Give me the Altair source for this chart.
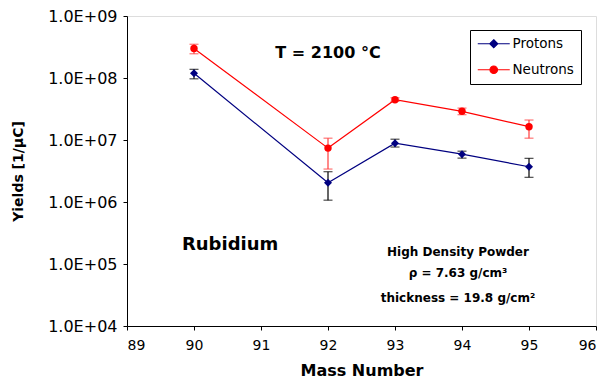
import altair as alt
import pandas as pd

mass = [90, 92, 93, 94, 95]
protons = [1.19e8, 2.05e6, 8.9e6, 5.9e6, 3.7e6]
protons_hi = [1.38e8, 3.08e6, 1.03e7, 6.6e6, 5.06e6]
protons_lo = [9.7e7, 1.07e6, 7.7e6, 5.1e6, 2.5e6]
neutrons = [3.0e8, 7.4e6, 4.46e7, 2.9e7, 1.64e7]
neutrons_hi = [3.5e8, 1.07e7, 4.8e7, 3.27e7, 2.1e7]
neutrons_lo = [2.46e8, 3.4e6, 4.2e7, 2.56e7, 1.07e7]

series = ["Protons", "Neutrons"]
line_colors = ["#000080", "#FF0000"]
err_colors = ["#000000", "#FF3B3B"]
shapes = ["diamond", "circle"]
legend_paths = [
    "M-1.2,0H5.2M2,-0.8L2.8,0L2,0.8L1.2,0Z",
    "M-1.2,0H5.2M2.75,0A0.75,0.75,0,1,1,1.25,0A0.75,0.75,0,1,1,2.75,0Z",
]

x_ticks = [89, 90, 91, 92, 93, 94, 95, 96]
y_ticks = [1e4, 1e5, 1e6, 1e7, 1e8, 1e9]

ann_title = {"x": [92.0], "y": [2.12e8], "t": ["T = 2100 °C"]}
ann_elem = {"x": [89.82], "y": [1.71e5], "t": ["Rubidium"]}
ann_box = {"x": [93.94, 93.94, 93.94], "y": [1.37e5, 6.1e4, 2.43e4],
           "t": ["High Density Powder", "ρ  = 7.63 g/cm³", "thickness = 19.8 g/cm²"]}

FONT = "DejaVu Sans"

xscale = alt.Scale(domain=[89, 96], nice=False)
yscale = alt.Scale(type="log", domain=[1e4, 1e9], nice=False)

xax = alt.Axis(values=x_ticks, format="d", title="Mass Number", grid=False,
               tickSize=4, labelPadding=8, labelFontSize=14, labelFont=FONT,
               titleFont=FONT, titleFontSize=16, titleFontWeight="bold",
               titlePadding=10, domainColor="black", tickColor="black",
               labelColor="black", titleColor="black")
yax = alt.Axis(values=y_ticks, labelExpr="'1.0E+0' + round(log(datum.value)/LN10)",
               title="Yields [1/μC]", grid=False, tickSize=4, labelPadding=6,
               labelFontSize=16, labelFont=FONT, titleFont=FONT, titleFontSize=14,
               titleFontWeight="bold", titlePadding=22, domainColor="black",
               tickColor="black", labelColor="black", titleColor="black")

data = {
    "Protons": (protons, protons_lo, protons_hi),
    "Neutrons": (neutrons, neutrons_lo, neutrons_hi),
}

layers = []
first = True
for s, lc, ec, sh in zip(series, line_colors, err_colors, shapes):
    v, lo, hi = data[s]
    df = pd.DataFrame({"mass": mass, "value": v, "lo": lo, "hi": hi, "series": s})
    base = alt.Chart(df)
    if first:
        xenc = alt.X("mass:Q", scale=xscale, axis=xax)
        yenc = alt.Y("value:Q", scale=yscale, axis=yax)
        first = False
    else:
        xenc = alt.X("mass:Q", scale=xscale)
        yenc = alt.Y("value:Q", scale=yscale)
    line = base.mark_line(color=lc, strokeWidth=1.2).encode(x=xenc, y=yenc)
    rule = base.mark_rule(color=ec, strokeWidth=1.2).encode(
        x=alt.X("mass:Q", scale=xscale), y=alt.Y("lo:Q", scale=yscale), y2="hi:Q")
    cap_hi = base.mark_tick(color=ec, orient="horizontal", size=9, thickness=1.2).encode(
        x=alt.X("mass:Q", scale=xscale), y=alt.Y("hi:Q", scale=yscale))
    cap_lo = base.mark_tick(color=ec, orient="horizontal", size=9, thickness=1.2).encode(
        x=alt.X("mass:Q", scale=xscale), y=alt.Y("lo:Q", scale=yscale))
    pts = base.mark_point(filled=True, color=lc, shape=sh, size=64 if sh == "diamond" else 55,
                          opacity=1).encode(
        x=alt.X("mass:Q", scale=xscale), y=alt.Y("value:Q", scale=yscale))
    layers += [line, rule, cap_hi, cap_lo, pts]

# legend layer (invisible marks, visible legend)
leg_df = pd.DataFrame({"mass": mass[:2], "value": protons[:2], "series": series})
legend = alt.Legend(title=None, orient="none", legendX=343, legendY=14,
                    strokeColor="black", fillColor="white", padding=7,
                    symbolSize=100, symbolStrokeWidth=1.2, symbolOpacity=1,
                    labelFont=FONT, labelFontSize=13.5, labelColor="black",
                    labelOffset=22, rowPadding=11, cornerRadius=0)
leg = alt.Chart(leg_df).mark_point(filled=True, opacity=0).encode(
    x=alt.X("mass:Q", scale=xscale),
    y=alt.Y("value:Q", scale=yscale),
    fill=alt.Fill("series:N", scale=alt.Scale(domain=series, range=line_colors), legend=legend),
    stroke=alt.Stroke("series:N", scale=alt.Scale(domain=series, range=line_colors), legend=legend),
    shape=alt.Shape("series:N", scale=alt.Scale(domain=series, range=legend_paths), legend=legend),
)
layers.append(leg)

def text_layer(d, size, align):
    return alt.Chart(pd.DataFrame(d)).mark_text(
        font=FONT, fontSize=size, fontWeight="bold", align=align,
        baseline="alphabetic", color="black").encode(
        x=alt.X("x:Q", scale=xscale), y=alt.Y("y:Q", scale=yscale), text="t:N")

layers.append(text_layer(ann_title, 16, "center"))
layers.append(text_layer(ann_elem, 18, "left"))
layers.append(text_layer(ann_box, 12, "center"))

chart = alt.layer(*layers).properties(
    width=469, height=310,
    autosize=alt.AutoSizeParams(type="none"),
    padding={"left": 119, "top": 8, "right": 5, "bottom": 60},
).configure_view(stroke="black", strokeWidth=1).configure(background="white")

chart.save("out.html", embed_options={"renderer": "svg", "actions": False})
